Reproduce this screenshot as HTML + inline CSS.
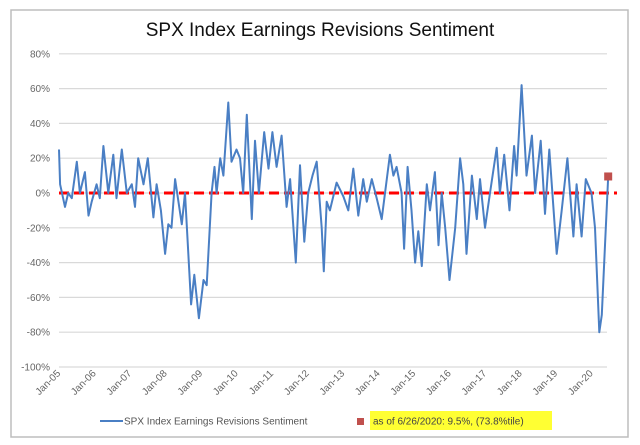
<!DOCTYPE html>
<html><head><meta charset="utf-8"><style>
body{margin:0;background:#fff;}
svg{display:block;font-family:"Liberation Sans",Arial,sans-serif;}
</style></head><body>
<svg id="chart" width="640" height="445" viewBox="0 0 640 445">
<rect x="11" y="10" width="617" height="427" fill="#fff" stroke="#bdbdbd" stroke-width="1.5"/>
<text x="320" y="36" text-anchor="middle" font-size="19" fill="#111">SPX Index Earnings Revisions Sentiment</text>
<g id="grid"></g><g id="ylabels"></g><g id="xlabels"></g>
<g id="zero"></g><g id="series"></g><g id="marker"></g>
<g>
<line x1="100" y1="421" x2="123" y2="421" stroke="#4a7fc4" stroke-width="2"/>
<text x="124" y="424.5" font-size="10" fill="#555">SPX Index Earnings Revisions Sentiment</text>
<rect x="357" y="418" width="7" height="7" fill="#c0504d"/>
<rect x="370" y="411" width="182" height="19" fill="#ffff33"/>
<text x="373" y="424.5" font-size="10" fill="#444">as of 6/26/2020: 9.5%, (73.8%tile)</text>
</g>
</svg>
<script>
const yTicks=[80,60,40,20,0,-20,-40,-60,-80,-100];
const xTickYears=[2005,2006,2007,2008,2009,2010,2011,2012,2013,2014,2015,2016,2017,2018,2019,2020];
const xTickLabels=["Jan-05","Jan-06","Jan-07","Jan-08","Jan-09","Jan-10","Jan-11","Jan-12","Jan-13","Jan-14","Jan-15","Jan-16","Jan-17","Jan-18","Jan-19","Jan-20"];
const dates=[2005.0,2005.03,2005.17,2005.26,2005.36,2005.50,2005.59,2005.73,2005.83,2005.92,2006.06,2006.15,2006.25,2006.39,2006.53,2006.62,2006.77,2006.91,2007.05,2007.14,2007.23,2007.38,2007.50,2007.66,2007.75,2007.87,2007.99,2008.08,2008.17,2008.27,2008.46,2008.55,2008.72,2008.81,2008.94,2009.07,2009.16,2009.30,2009.38,2009.44,2009.54,2009.63,2009.77,2009.86,2010.00,2010.10,2010.19,2010.29,2010.43,2010.52,2010.63,2010.78,2010.90,2011.01,2011.13,2011.27,2011.41,2011.51,2011.67,2011.79,2011.91,2012.02,2012.14,2012.26,2012.40,2012.46,2012.54,2012.63,2012.82,2013.01,2013.15,2013.29,2013.43,2013.57,2013.67,2013.81,2013.95,2014.09,2014.32,2014.42,2014.51,2014.65,2014.72,2014.82,2014.93,2015.03,2015.12,2015.22,2015.36,2015.45,2015.59,2015.69,2015.78,2015.88,2016.00,2016.16,2016.30,2016.39,2016.48,2016.63,2016.77,2016.86,2017.00,2017.14,2017.33,2017.42,2017.54,2017.69,2017.82,2017.89,2018.03,2018.17,2018.32,2018.41,2018.57,2018.69,2018.81,2019.02,2019.16,2019.32,2019.49,2019.58,2019.72,2019.84,2020.00,2020.10,2020.22,2020.29,2020.38,2020.47];
const values=[25,5,-8,0,-3,18,0,12,-13,-5,5,-3,27,0,22,-3,25,0,5,-8,20,5,20,-14,5,-10,-35,-18,-20,8,-18,0,-64,-47,-72,-50,-53,0,15,0,20,10,52,18,25,20,0,45,-15,30,0,35,14,35,15,33,-8,8,-40,16,-28,0,10,18,-20,-45,-5,-10,6,-2,-10,14,-13,8,-5,8,-3,-15,22,10,15,0,-32,15,-10,-40,-22,-42,5,-10,12,-30,0,-20,-50,-20,20,5,-35,10,-15,8,-20,0,26,0,22,-10,27,10,62,10,33,0,30,-12,25,-35,-10,20,-25,5,-25,8,0,-20,-80,-70,-30,9.5];
const markerDate=[2020.47];
const markerValue=[9.5];

const NS="http://www.w3.org/2000/svg";
const X0=59,X1=607;
function xs(d){return 59+(d-2005)*35.5;}
function ys(v){return 193-v*1.74;}
function mk(tag,attrs,parent){const e=document.createElementNS(NS,tag);for(const k in attrs)e.setAttribute(k,attrs[k]);document.getElementById(parent).appendChild(e);return e;}

yTicks.forEach(t=>{
  const l=mk('line',{x1:X0,x2:X1,y1:ys(t),y2:ys(t),stroke:'#d9d9d9','stroke-width':1.2},'grid');
  
  
  const tx=mk('text',{x:50,y:ys(t)+3.5,'text-anchor':'end','font-size':10,fill:'#666'},'ylabels');
  tx.textContent=t+'%';
  
  
});
xTickYears.forEach((yr,i)=>{
  const x=xs(yr)+2,y=374;
  const tx=mk('text',{x:x,y:y,'text-anchor':'end','font-size':10,fill:'#666',transform:'rotate(-45 '+x+' '+y+')'},'xlabels');
  tx.textContent=xTickLabels[i];
  
  
});
const z=mk('line',{x1:X0,x2:617,y1:ys(0),y2:ys(0),stroke:'#ff0000','stroke-width':3,'stroke-dasharray':'10 5'},'zero');


const pts=dates.map((d,i)=>xs(d).toFixed(1)+','+ys(values[i]).toFixed(1)).join(' ');
const pl=mk('polyline',{points:pts,fill:'none',stroke:'#4a7fc4','stroke-width':2,'stroke-linejoin':'round'},'series');


markerDate.forEach((d,i)=>{
  const r=mk('rect',{x:xs(d)-4,y:ys(markerValue[i])-4,width:8,height:8,fill:'#c0504d'},'marker');
  
  
});
</script>
</body></html>
